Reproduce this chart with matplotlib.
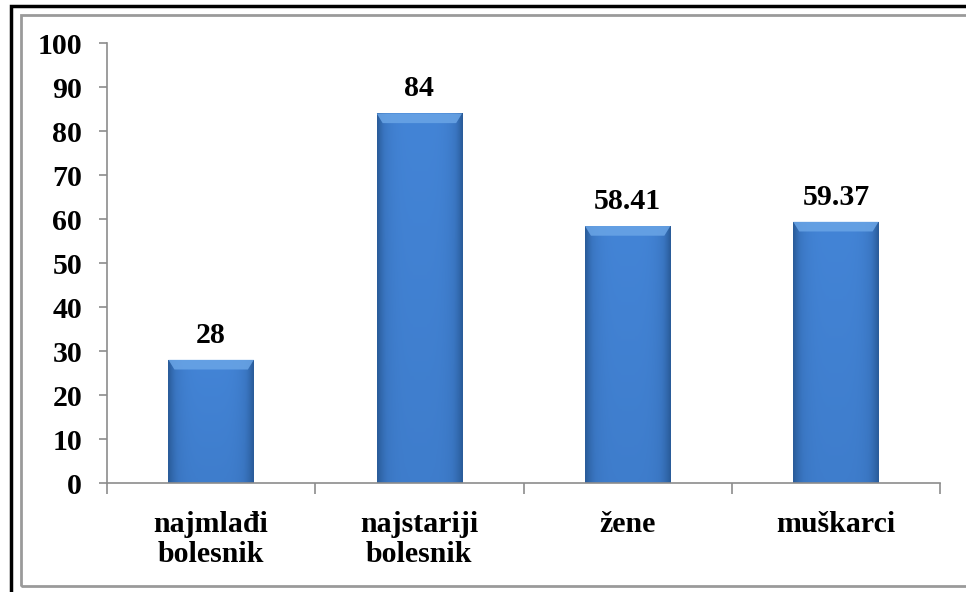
import numpy as np
import matplotlib.pyplot as plt
import matplotlib.patches as patches
from matplotlib.colors import LinearSegmentedColormap

categories = ['najmlađi\nbolesnik', 'najstariji\nbolesnik', 'žene', 'muškarci']
values = [28, 84, 58.41, 59.37]
value_labels = ['28', '84', '58.41', '59.37']

plt.rcParams['font.family'] = ['Liberation Serif', 'DejaVu Serif']
plt.rcParams['font.weight'] = 'bold'

fig = plt.figure(figsize=(9.66, 5.92), dpi=100)
ax = fig.add_axes([0.1108, 0.1841, 0.8623, 0.7432])

x = np.arange(len(categories))
bars = ax.bar(x, values, width=0.41, color='none', edgecolor='none', zorder=2)

# gradient fill for the bars (darker at the sides and bottom)
cmap = LinearSegmentedColormap.from_list('bl', ['#2a5c9a', '#3a76c2', '#4384d6'])
hx = np.linspace(-1, 1, 60)
horiz = 1 - np.abs(hx) ** 4
vert = np.linspace(0.75, 1.0, 100)[:, None]
grad = horiz[None, :] * vert
for b in bars:
    x0, w, h = b.get_x(), b.get_width(), b.get_height()
    im = ax.imshow(grad, cmap=cmap, vmin=0, vmax=1, aspect='auto', origin='lower',
                   extent=[x0, x0 + w, 0, h], zorder=2, interpolation='bilinear')
    im.set_clip_path(b)
    # bevel at the top
    bh = 2.2
    bev = patches.Polygon([[x0, h], [x0 + w, h], [x0 + w * 0.93, h - bh], [x0 + w * 0.07, h - bh]],
                          closed=True, facecolor='#6aa5e6', edgecolor='none', zorder=3, alpha=0.85)
    ax.add_patch(bev)

ax.set_xlim(-0.5, 3.5)
ax.set_ylim(0, 100)
ax.set_yticks(np.arange(0, 101, 10))
ax.set_xticks(x)
ax.set_xticklabels(categories, fontsize=21.5, fontweight='bold', linespacing=1.15)
ax.set_xticks(np.arange(-0.5, 4, 1), minor=True)
ax.tick_params(axis='x', which='major', length=0, pad=20)
ax.tick_params(axis='x', which='minor', length=8, width=1.2, color='#8c8c8c', direction='out')
ax.tick_params(axis='y', length=6, width=1.2, color='#8c8c8c', direction='out', pad=12, labelsize=21.5)
for lab in ax.get_yticklabels():
    lab.set_fontweight('bold')

for s in ['top', 'right']:
    ax.spines[s].set_visible(False)
for s in ['left', 'bottom']:
    ax.spines[s].set_color('#8c8c8c')
    ax.spines[s].set_linewidth(1.2)

for b, lab in zip(bars, value_labels):
    ax.annotate(lab, (b.get_x() + b.get_width() / 2, b.get_height()), xytext=(0, 8),
                textcoords='offset points', ha='center', va='bottom',
                fontsize=21.5, fontweight='bold')

# frames around the chart
fig.patches.append(patches.Rectangle((21 / 966, 6 / 592), 1.2, 1 - 21 / 592, transform=fig.transFigure,
                                     fill=False, edgecolor='#9a9a9a', linewidth=2))
fig.patches.append(patches.Rectangle((11 / 966, -0.2), 1.2, 1.2 - 5.5 / 592, transform=fig.transFigure,
                                     fill=False, edgecolor='black', linewidth=2.5))

fig.savefig('out.png', dpi=100)
